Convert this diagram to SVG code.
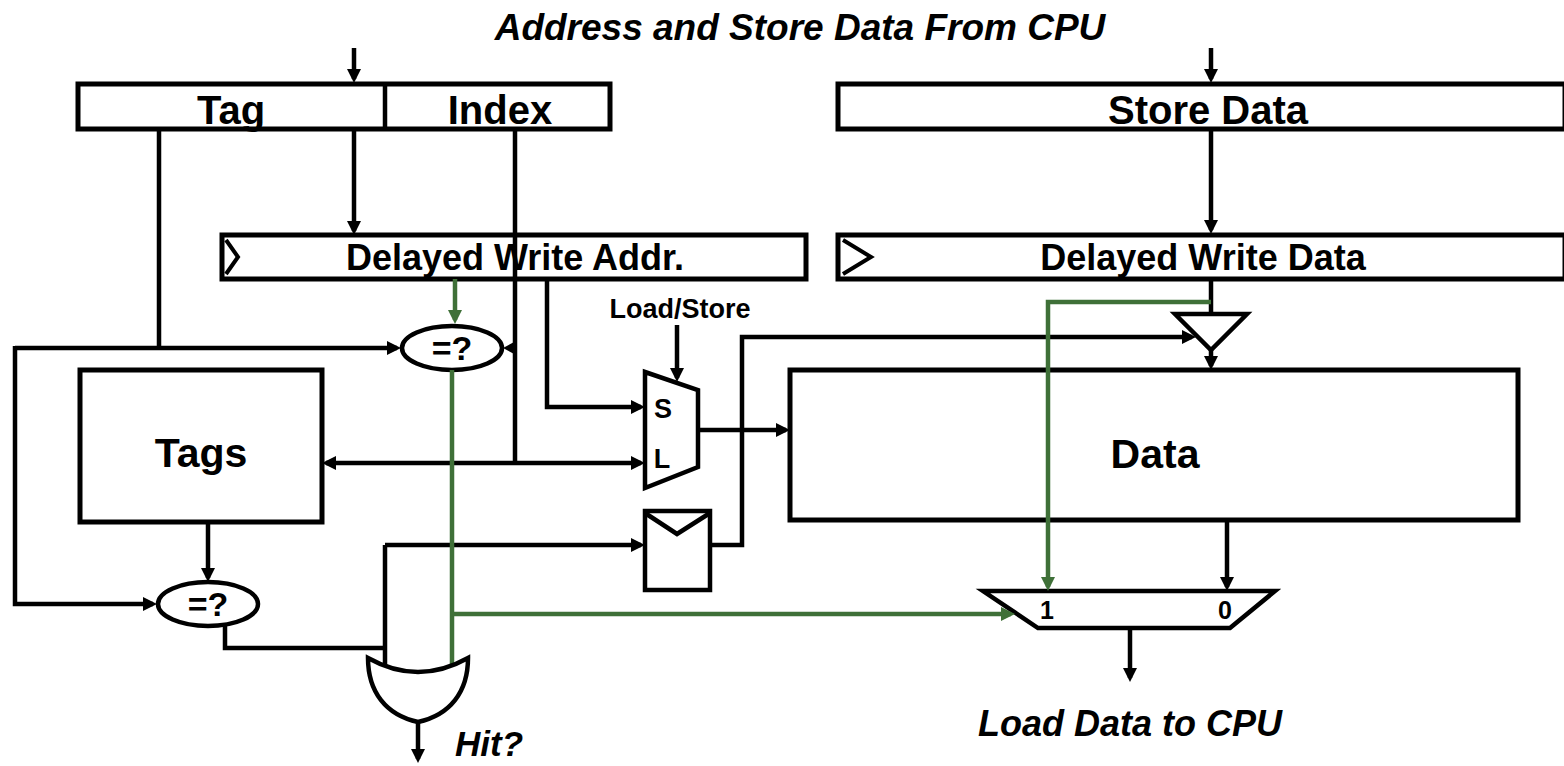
<svg xmlns="http://www.w3.org/2000/svg" width="1564" height="766" viewBox="0 0 1564 766">
<style>
.box{fill:#fff;stroke:#000;stroke-width:5}
.shape{fill:#fff;stroke:#000;stroke-width:4.5;stroke-linejoin:miter}
.w{fill:none;stroke:#000;stroke-width:4.5}
.g{fill:none;stroke:#3f7038;stroke-width:4.5}
.t{font-family:"Liberation Sans",Arial,sans-serif;font-weight:bold;fill:#000;text-anchor:middle}
.ti{font-family:"Liberation Sans",Arial,sans-serif;font-weight:bold;font-style:italic;fill:#000}
</style>
<defs>
<marker id="ab" markerUnits="userSpaceOnUse" markerWidth="14" markerHeight="14" refX="10" refY="7" orient="auto-start-reverse"><path d="M0,0 L14,7 L0,14 z" fill="#000"/></marker>
<marker id="ag" markerUnits="userSpaceOnUse" markerWidth="14" markerHeight="14" refX="10" refY="7" orient="auto-start-reverse"><path d="M0,0 L14,7 L0,14 z" fill="#3f7038"/></marker>
</defs>
<rect width="1564" height="766" fill="#fff"/>
<text class="ti" x="800" y="40" font-size="37" text-anchor="middle">Address and Store Data From CPU</text>

<g id="addr-reg">
<rect class="box" x="78" y="84" width="532" height="45"/>
<line x1="385" y1="84" x2="385" y2="129" stroke="#000" stroke-width="4.5"/>
<text class="t" x="231" y="124" font-size="40">Tag</text>
<text class="t" x="500" y="124" font-size="40">Index</text>
</g>
<g id="store-data">
<rect class="box" x="838" y="84" width="727" height="45"/>
<text class="t" x="1208" y="124" font-size="40">Store Data</text>
</g>
<g id="delayed-write-addr">
<rect class="box" x="222" y="235" width="584" height="44"/>
<polyline points="226,240 238,257 226,274" fill="none" stroke="#000" stroke-width="4"/>
<text class="t" x="515" y="270" font-size="36">Delayed Write Addr.</text>
</g>
<g id="delayed-write-data">
<rect class="box" x="838" y="235" width="727" height="44"/>
<polyline points="843,240 871,257 843,274" fill="none" stroke="#000" stroke-width="4"/>
<text class="t" x="1203" y="270" font-size="36">Delayed Write Data</text>
</g>
<g id="tags">
<rect class="box" x="80" y="370" width="242" height="152"/>
<text class="t" x="201" y="467" font-size="41">Tags</text>
</g>
<g id="data">
<rect class="box" x="790" y="370" width="728" height="150"/>
<text class="t" x="1155" y="468" font-size="41">Data</text>
</g>
<g id="cmp-top">
<ellipse class="shape" cx="452" cy="348" rx="50" ry="22"/>
<text class="t" x="452" y="360" font-size="34">=?</text>
</g>
<g id="cmp-bottom">
<ellipse class="shape" cx="208" cy="604" rx="50" ry="22"/>
<text class="t" x="208" y="616" font-size="34">=?</text>
</g>
<g id="mux-ls">
<polygon class="shape" points="645,372 698,390 698,467 645,488"/>
<text class="t" x="663" y="418" font-size="27">S</text>
<text class="t" x="662" y="468" font-size="27">L</text>
</g>
<g id="load-store-label">
<text class="t" x="680" y="318" font-size="27">Load/Store</text>
</g>
<g id="valid-reg">
<rect class="shape" x="645" y="511" width="65" height="79"/>
<polyline points="645,513 677,534 710,513" fill="none" stroke="#000" stroke-width="4.5"/>
</g>
<g id="tristate">
<polygon class="shape" points="1175,314 1247,314 1211,350"/>
</g>
<g id="mux-out">
<polygon class="shape" points="983,591 1275,591 1230,628 1038,628"/>
<text class="t" x="1047" y="619" font-size="25">1</text>
<text class="t" x="1225" y="619" font-size="25">0</text>
</g>

<g id="connectors">
<line class="w" x1="354" y1="48" x2="354" y2="79" marker-end="url(#ab)"/>
<line class="w" x1="1211" y1="48" x2="1211" y2="79" marker-end="url(#ab)"/>
<path class="w" d="M159,129 V348"/>
<path class="w" d="M15,348 H397" marker-end="url(#ab)"/>
<path class="w" d="M15,346 V604 H153" marker-end="url(#ab)"/>
<path class="w" d="M354,129 V231" marker-end="url(#ab)"/>
<path class="w" d="M515,129 V463"/>
<polygon points="503,348 516,341 516,355" fill="#000"/>
<path class="w" d="M326,463 H641" marker-start="url(#ab)" marker-end="url(#ab)"/>
<path class="w" d="M547,279 V407 H641" marker-end="url(#ab)"/>
<path class="w" d="M677,325 V378" marker-end="url(#ab)"/>
<path class="w" d="M698,430 H786" marker-end="url(#ab)"/>
<path class="w" d="M208,522 V578" marker-end="url(#ab)"/>
<path class="w" d="M225,626 V648 H385"/>
<path class="w" d="M385,545 V672"/>
<path class="w" d="M385,545 H641" marker-end="url(#ab)"/>
<path class="w" d="M710,545 H742 V337 H1192" marker-end="url(#ab)"/>
<path class="w" d="M1211,129 V230" marker-end="url(#ab)"/>
<path class="w" d="M1211,279 V314"/>
<path class="w" d="M1211,350 V366" marker-end="url(#ab)"/>
<path class="w" d="M1227,520 V587" marker-end="url(#ab)"/>
<path class="w" d="M1130,628 V678" marker-end="url(#ab)"/>
<path class="g" d="M455,279 V320" marker-end="url(#ag)"/>
<path class="g" d="M452,370 V666"/>
<path class="g" d="M452,614 H1011" marker-end="url(#ag)"/>
<path class="g" d="M1211,302 H1048 V587" marker-end="url(#ag)"/>
<path class="w" d="M418,722 V759" marker-end="url(#ab)"/>
</g>

<g id="or-gate">
<path class="shape" d="M368,658 Q418,686 468,658 C468,692 450,715 418,722 C386,715 368,692 368,658 Z"/>
</g>
<text class="ti" x="455" y="756" font-size="35">Hit?</text>
<text class="ti" x="1130" y="736" font-size="36" text-anchor="middle">Load Data to CPU</text>
</svg>
